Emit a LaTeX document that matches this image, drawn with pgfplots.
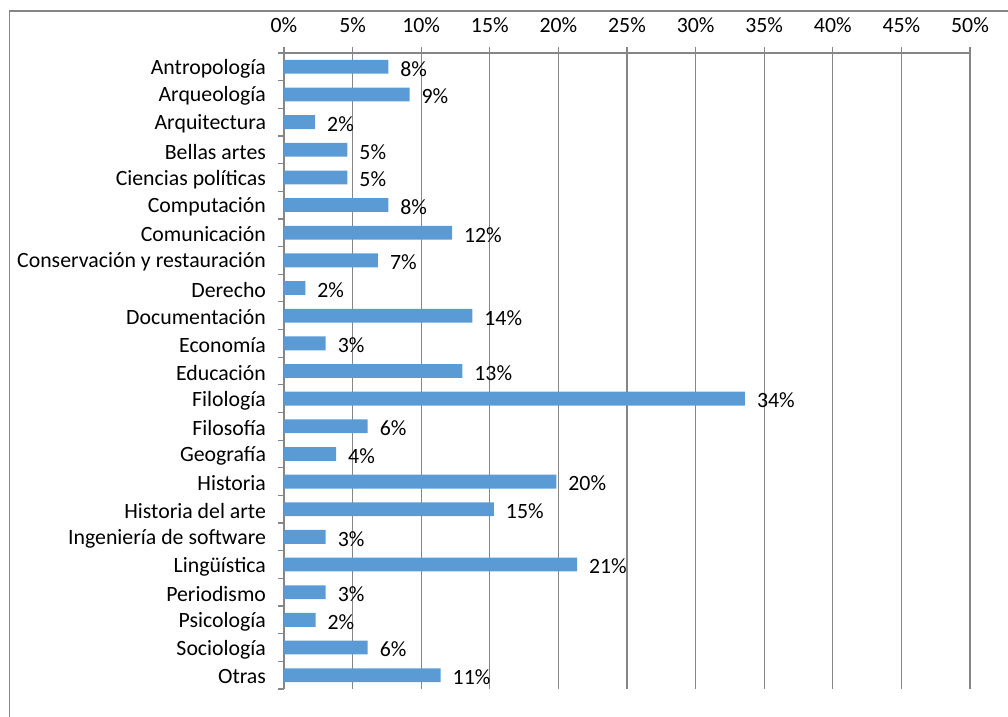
\documentclass[border=0pt]{standalone}
\usepackage{fontspec}
\setmainfont{Carlito}
\usepackage{pgfplots}
\pgfplotsset{compat=1.18}
\usepackage{pgfplotstable}
\definecolor{barblue}{HTML}{5B9BD5}
\definecolor{gridgray}{HTML}{868686}
\pgfplotstableread{
y x label
22 7.6 8
21 9.15 9
20 2.27 2
19 4.62 5
18 4.62 5
17 7.6 8
16 12.25 12
15 6.85 7
14 1.55 2
13 13.73 14
12 3.04 3
11 13.0 13
10 33.6 34
9 6.1 6
8 3.8 4
7 19.85 20
6 15.3 15
5 3.04 3
4 21.36 21
3 3.04 3
2 2.3 2
1 6.1 6
0 11.42 11
}\datatable
\begin{document}
\begin{tikzpicture}
\begin{axis}[
  at={(142pt,14pt)}, anchor=south west,
  scale only axis, width=343pt, height=318pt,
  xbar, bar width=0.5,
  xmin=0, xmax=50, ymin=-0.5, ymax=22.5,
  axis x line*=top, axis y line*=left,
  axis line style={gridgray, line width=0.6pt},
  xtick={0,5,10,15,20,25,30,35,40,45,50},
  xticklabel={\pgfmathprintnumber{\tick}\%},
  xticklabel style={yshift=3.5pt},
  xmajorgrids, grid style={gridgray, line width=0.6pt},
  ytick={-0.5,0.5,1.5,2.5,3.5,4.5,5.5,6.5,7.5,8.5,9.5,10.5,11.5,12.5,13.5,14.5,15.5,16.5,17.5,18.5,19.5,20.5,21.5,22.5},
  yticklabels={Otras,Sociología,Psicología,Periodismo,Lingüística,Ingeniería de software,Historia del arte,Historia,Geografía,Filosofía,Filología,Educación,Economía,Documentación,Derecho,Conservación y restauración,Comunicación,Computación,Ciencias políticas,Bellas artes,Arquitectura,Arqueología,Antropología,{}},
  yticklabel style={yshift=6.0pt, xshift=-2.5pt},
  tick align=outside, major tick length=3pt,
  tick style={gridgray, line width=0.6pt},
  every tick label/.append style={font=\fontsize{10.9}{13}\selectfont, text=black},
  /pgf/number format/assume math mode=true,
  point meta=explicit symbolic,
  nodes near coords={\pgfplotspointmeta\%},
  every node near coord/.append style={font=\fontsize{10.9}{13}\selectfont, text=black, anchor=west, xshift=2.5pt, yshift=-1pt},
  clip=false,
]
\addplot[fill=barblue, draw=none] table[x=x, y=y, meta=label]{\datatable};
\end{axis}
\draw[overlay, gridgray, line width=0.6pt] (4.67pt,-20pt) -- (4.67pt,353pt) -- (530pt,353pt);
\pgfresetboundingbox
\path[use as bounding box] (0,0) rectangle (504pt,358.5pt);
\end{tikzpicture}
\end{document}
